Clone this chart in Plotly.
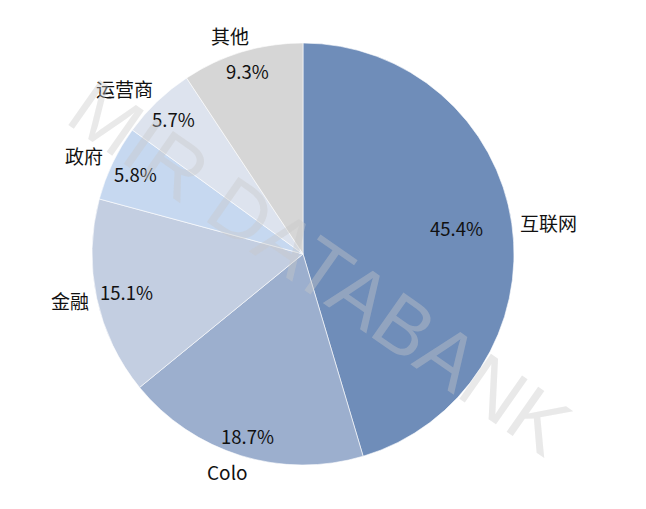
import math
import plotly.graph_objects as go

categories = ["互联网", "Colo", "金融", "政府", "运营商", "其他"]
values = [45.4, 18.7, 15.1, 5.8, 5.7, 9.3]
colors = ["#6F8DB9", "#9CAFCE", "#C3CEE1", "#C6D8F0", "#DDE3EE", "#D6D6D6"]

OFF = 8  # page body margin
W, H = 646 - OFF, 509 - OFF
CX, CY, R = 303 - OFF, 254 - OFF, 211
# label placement (radius factor, angle offset in degrees)
pct_r = [0.74, 0.90, 0.853, 0.878, 0.885, 0.907]
pct_da = [-1.3, 0, 0, 0, 0, 0]
name_r = [1.171, 1.094, 1.127, 1.139, 1.153, 1.094]
name_da = [0.9, 2.1, 0.7, -1.3, -3.3, -1.7]

fig = go.Figure()
fig.add_trace(go.Pie(
    labels=categories, values=values, sort=False, direction="clockwise", rotation=0,
    marker=dict(colors=colors, line=dict(color="rgba(255,255,255,0.6)", width=1)),
    textinfo="none", hoverinfo="label+percent", showlegend=False,
    domain=dict(x=[(CX - R) / W, (CX + R) / W], y=[(H - CY - R) / H, (H - CY + R) / H]),
))

total = sum(values)
cum = 0
font = "Noto Sans CJK SC, Microsoft YaHei, sans-serif"
for i, (c, v) in enumerate(zip(categories, values)):
    mid = (cum + v / 2) / total * 360
    cum += v
    for rr, da, txt, fs in ((pct_r[i], pct_da[i], f"{v:.1f}%", 18.5),
                            (name_r[i], name_da[i], c, 19)):
        a = math.radians(mid + da)
        px = CX + rr * R * math.sin(a)
        py = CY - rr * R * math.cos(a)
        fig.add_annotation(x=px / W, y=1 - py / H, xref="paper", yref="paper",
                           text=txt, showarrow=False, xanchor="center", yanchor="middle",
                           font=dict(size=fs, color="#111111", family=font))

fig.add_annotation(x=(320 - OFF) / W, y=1 - (267 - OFF) / H, xref="paper", yref="paper",
                   text="MIR DATABANK", showarrow=False, textangle=35,
                   font=dict(size=80, color="rgba(200,200,200,0.4)", family="DejaVu Sans ExtraLight, Liberation Sans, sans-serif"))

fig.update_layout(width=W, height=H, margin=dict(l=0, r=0, t=0, b=0),
                  paper_bgcolor="white", plot_bgcolor="white")
fig.write_html("out.html")
